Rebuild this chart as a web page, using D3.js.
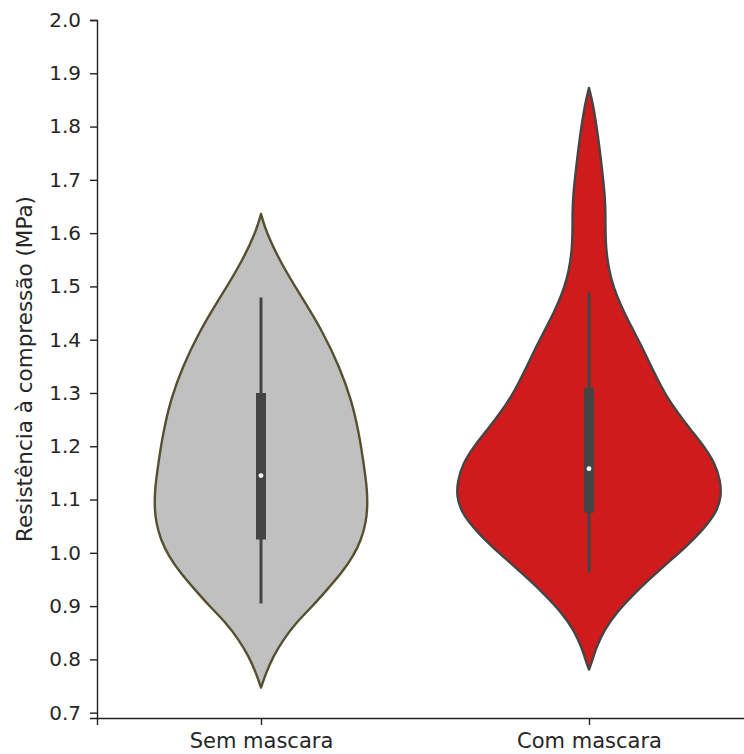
<!DOCTYPE html>
<html>
<head>
<meta charset="utf-8">
<script src="https://cdn.jsdelivr.net/npm/d3@7"></script>
<style>
  html, body { margin: 0; padding: 0; background: #ffffff; }
  svg { display: block; }
  text { font-family: "DejaVu Sans", sans-serif; }
</style>
</head>
<body>
<svg id="chart" width="744" height="754"></svg>
<script>
// Groups on the x axis
const categories = ["Sem mascara", "Com mascara"];

// Kernel density outlines: value (MPa) and relative density
const semValues = [0.747, 0.776, 0.806, 0.837, 0.869, 0.899, 0.931, 0.963, 0.993, 1.025, 1.057, 1.087, 1.119, 1.151, 1.188, 1.226, 1.287, 1.349, 1.413, 1.475, 1.537, 1.601, 1.636];
const semDensity = [0, 0.040, 0.094, 0.170, 0.268, 0.389, 0.504, 0.616, 0.702, 0.765, 0.800, 0.812, 0.808, 0.792, 0.770, 0.745, 0.690, 0.598, 0.475, 0.323, 0.166, 0.040, 0];

const comValues = [0.781, 0.794, 0.824, 0.856, 0.888, 0.918, 0.950, 0.982, 1.012, 1.044, 1.076, 1.106, 1.137, 1.169, 1.199, 1.231, 1.263, 1.294, 1.326, 1.357, 1.389, 1.420, 1.451, 1.483, 1.514, 1.546, 1.578, 1.610, 1.641, 1.673, 1.719, 1.781, 1.844, 1.8725];
const comDensity = [0, 0.020, 0.058, 0.118, 0.210, 0.323, 0.458, 0.603, 0.742, 0.872, 0.972, 1.010, 1.000, 0.958, 0.880, 0.775, 0.675, 0.590, 0.522, 0.460, 0.398, 0.333, 0.268, 0.210, 0.168, 0.142, 0.128, 0.125, 0.126, 0.120, 0.100, 0.070, 0.030, 0];

// Box summaries: lower whisker, Q1, median, Q3, upper whisker
const semBox = [0.905, 1.025, 1.145, 1.300, 1.479];
const comBox = [0.963, 1.0755, 1.158, 1.310, 1.488];

// Y axis ticks
const yTicks = [0.7, 0.8, 0.9, 1.0, 1.1, 1.2, 1.3, 1.4, 1.5, 1.6, 1.7, 1.8, 1.9, 2.0];

const fills = ["#c0c0c0", "#cf1b1b"];
const edges = ["#55502f", "#454545"];

const groups = [
  { values: semValues, density: semDensity, box: semBox },
  { values: comValues, density: comDensity, box: comBox }
];

const svg = d3.select("#chart");

const x = d3.scaleLinear().domain([-0.5, 1.5]).range([97, 753]);
const y = d3.scaleLinear().domain([0.69, 2.0]).range([718, 20]);
// density 1.0 corresponds to a half-width of 0.4 category units
const w = d3.scaleLinear().domain([0, 1]).range([0, x(0.4) - x(0)]);

const g = svg.append("g");

groups.forEach((grp, i) => {
  const cx = x(i);
  const pts = grp.values.map((v, k) => ({ v: v, d: grp.density[k] }));
  const area = d3.area()
    .y(p => y(p.v))
    .x0(p => cx - w(p.d))
    .x1(p => cx + w(p.d))
    .curve(d3.curveBasis);
  g.append("path")
    .datum(pts)
    .attr("d", area)
    .attr("fill", fills[i])
    .attr("stroke", edges[i])
    .attr("stroke-width", 2.4)
    .attr("stroke-linejoin", "round");

  const [lo, q1, med, q3, hi] = grp.box;
  g.append("line")
    .attr("x1", cx).attr("x2", cx)
    .attr("y1", y(lo)).attr("y2", y(hi))
    .attr("stroke", "#444444")
    .attr("stroke-width", 3);
  g.append("rect")
    .attr("x", cx - 5).attr("width", 10)
    .attr("y", y(q3)).attr("height", y(q1) - y(q3))
    .attr("fill", "#444444");
  g.append("circle")
    .attr("cx", cx).attr("cy", y(med))
    .attr("r", 2.4)
    .attr("fill", "#ffffff");
});

// Axes
const yAxis = svg.append("g")
  .attr("transform", `translate(${x(-0.5)},0)`)
  .call(d3.axisLeft(y).tickValues(yTicks).tickFormat(d3.format(".1f")).tickSizeOuter(0).tickSize(7).tickPadding(9));

const xAxis = svg.append("g")
  .attr("transform", `translate(0,${y(0.69)})`)
  .call(d3.axisBottom(x).tickValues([0, 1]).tickFormat(i => categories[i]).tickSizeOuter(0).tickSize(7).tickPadding(8));

[yAxis, xAxis].forEach(ax => {
  ax.selectAll("path.domain").attr("stroke", "#222222").attr("stroke-width", 1.4);
  ax.selectAll(".tick line").attr("stroke", "#222222").attr("stroke-width", 1.4);
  ax.selectAll(".tick text")
    .attr("fill", "#262626")
    .style("font-family", "'DejaVu Sans', sans-serif");
});
yAxis.selectAll(".tick text").style("font-size", "20px");
xAxis.selectAll(".tick text").style("font-size", "21px");

svg.append("text")
  .attr("transform", `translate(32,${(y(0.69) + y(2.0)) / 2}) rotate(-90)`)
  .attr("text-anchor", "middle")
  .attr("fill", "#262626")
  .style("font-size", "21.5px")
  .text("Resistência à compressão (MPa)");
</script>
</body>
</html>
